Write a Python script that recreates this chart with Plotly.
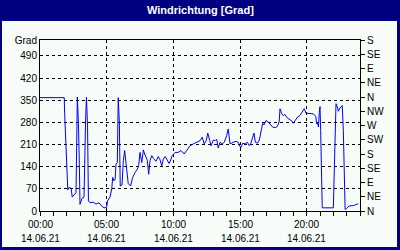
import plotly.graph_objects as go
import pandas as pd

# minutes after 14.06.21 00:00 and wind direction in degrees
minutes = [0, 109, 111, 116, 120, 125, 130, 140, 145, 153, 162, 168, 173, 177, 180, 189, 198,
           205, 209, 214, 218, 225, 239, 252, 266, 278, 289, 300, 304, 315, 323, 327, 333, 338,
           342, 348, 352, 357, 361, 369, 375, 381, 386, 390, 397, 408, 417, 428, 438, 444, 450,
           458, 465, 471, 477, 483, 489, 495, 503, 510, 522, 532, 540, 548, 555, 563, 570, 581,
           590, 595, 608, 622, 635, 649, 660, 675, 690, 705, 720, 730, 739, 748, 755, 764, 770,
           780, 788, 795, 802, 810, 820, 829, 840, 847, 855, 870, 882, 892, 903, 912, 923, 933,
           942, 948, 957, 963, 969, 978, 987, 998, 1002, 1008, 1017, 1027, 1035, 1047, 1058,
           1068, 1076, 1080, 1088, 1095, 1102, 1113, 1125, 1135, 1140, 1148, 1158, 1170, 1180,
           1189, 1197, 1207, 1220, 1230, 1241, 1245, 1248, 1253, 1257, 1260, 1263, 1268, 1270,
           1320, 1324, 1328, 1332, 1340, 1342, 1350, 1360, 1365, 1369, 1373, 1380, 1391, 1410,
           1425, 1432]
degrees = [358, 358, 308, 206, 118, 67, 74, 72, 44, 52, 58, 360, 276, 150, 21, 40, 44,
           281, 360, 265, 32, 26, 28, 22, 26, 15, 10, 12, 32, 44, 70, 106, 95, 100,
           148, 153, 358, 281, 79, 82, 159, 191, 153, 116, 87, 79, 106, 122, 132, 143, 185,
           153, 193, 180, 169, 160, 116, 159, 175, 166, 157, 172, 162, 143, 164, 172, 164, 150,
           164, 175, 185, 185, 191, 180, 191, 206, 212, 217, 222, 233, 212, 222, 246, 222, 206,
           224, 222, 227, 199, 217, 212, 217, 238, 259, 212, 217, 220, 217, 199, 214, 212, 217,
           206, 212, 233, 246, 217, 214, 224, 265, 277, 272, 286, 281, 275, 265, 263,
           267, 281, 323, 307, 301, 305, 294, 288, 283, 277, 286, 296, 302, 312,
           323, 309, 309, 309, 307, 299, 275, 280, 265, 312, 330, 254, 95, 10,
           10, 116, 281, 339, 325, 315, 325, 333, 254, 85, 5, 8, 16, 17,
           21, 23]

left_ticks = [0, 70, 140, 210, 280, 350, 420, 490]
right_ticks = [0, 45, 90, 135, 180, 225, 270, 315, 360, 405, 450, 495, 540]
right_labels = ["N", "NE", "E", "SE", "S", "SW", "W", "NW", "N", "NE", "E", "SE", "S"]
x_tick_hours = [0, 5, 10, 15, 20]
x_tick_times = ["00:00", "05:00", "10:00", "15:00", "20:00"]
x_tick_dates = ["14.06.21", "14.06.21", "14.06.21", "14.06.21", "14.06.21"]
title_text = "Windrichtung [Grad]"

t0 = pd.Timestamp("2021-06-14 00:00")
times = [t0 + pd.Timedelta(minutes=m) for m in minutes]
tick_pos = [t0 + pd.Timedelta(hours=h) for h in x_tick_hours]

W, H = 400, 250
L, R, T, B = 40, 40, 40, 39
pw, ph = W - L - R, H - T - B


def px(x):
    return (x - L) / pw


def py(y):
    return (H - B - y) / ph


font = dict(family="Liberation Sans, Arial, sans-serif", size=10, color="black")
bg = "#f8fcf8"

fig = go.Figure()
fig.add_trace(go.Scatter(x=times, y=degrees, mode="lines",
                         line=dict(color="#0000ff", width=1), yaxis="y", showlegend=False))
fig.add_trace(go.Scatter(x=[times[0]], y=[0], mode="markers", marker=dict(opacity=0),
                         yaxis="y2", showlegend=False, hoverinfo="skip"))

fig.update_layout(
    width=W, height=H, margin=dict(l=L, r=R, t=T, b=B, autoexpand=False),
    paper_bgcolor="#000080", plot_bgcolor=bg, font=font,
    xaxis=dict(type="date", range=[t0, t0 + pd.Timedelta(hours=24)],
               tickvals=tick_pos, showticklabels=False,
               showgrid=True, gridcolor="black", griddash="3px,3px", gridwidth=1,
               showline=True, linecolor="black", linewidth=1, mirror=True,
               ticks="outside", ticklen=4, tickcolor="black",
               minor=dict(dtick=3600000, ticks="outside", ticklen=4, tickcolor="black",
                          showgrid=False),
               zeroline=False, fixedrange=True, automargin=False),
    yaxis=dict(range=[0, 540], tickvals=left_ticks + [540],
               ticktext=[str(v) for v in left_ticks] + ["Grad"],
               showgrid=True, gridcolor="black", griddash="3px,3px", gridwidth=1,
               showline=True, linecolor="black", linewidth=1, mirror=True,
               ticks="", zeroline=False, fixedrange=True, automargin=False),
    yaxis2=dict(range=[0, 540], overlaying="y", side="right", tickvals=right_ticks,
                ticktext=right_labels, showgrid=False, showline=True, linecolor="black",
                ticks="outside", ticklen=4, tickcolor="black", zeroline=False,
                fixedrange=True, automargin=False),
)

for tp, tt, td in zip(tick_pos, x_tick_times, x_tick_dates):
    fig.add_annotation(text=tt, x=tp, xref="x", y=py(224), yref="paper", showarrow=False,
                       xanchor="center", yanchor="middle", font=font)
    fig.add_annotation(text=td, x=tp, xref="x", y=py(238.5), yref="paper", showarrow=False,
                       xanchor="center", yanchor="middle", font=font)

fig.add_shape(type="rect", xref="paper", yref="paper", x0=px(2), x1=px(397), y0=py(21), y1=py(247),
              fillcolor=bg, line=dict(width=0), layer="below")
fig.add_annotation(text="<b>" + title_text + "</b>", xref="paper", yref="paper",
                   x=px(200), y=py(10.5), xanchor="center", yanchor="middle", showarrow=False,
                   font=dict(family="Liberation Sans, Arial, sans-serif", size=11, color="white"))

fig.write_html("out.html")
